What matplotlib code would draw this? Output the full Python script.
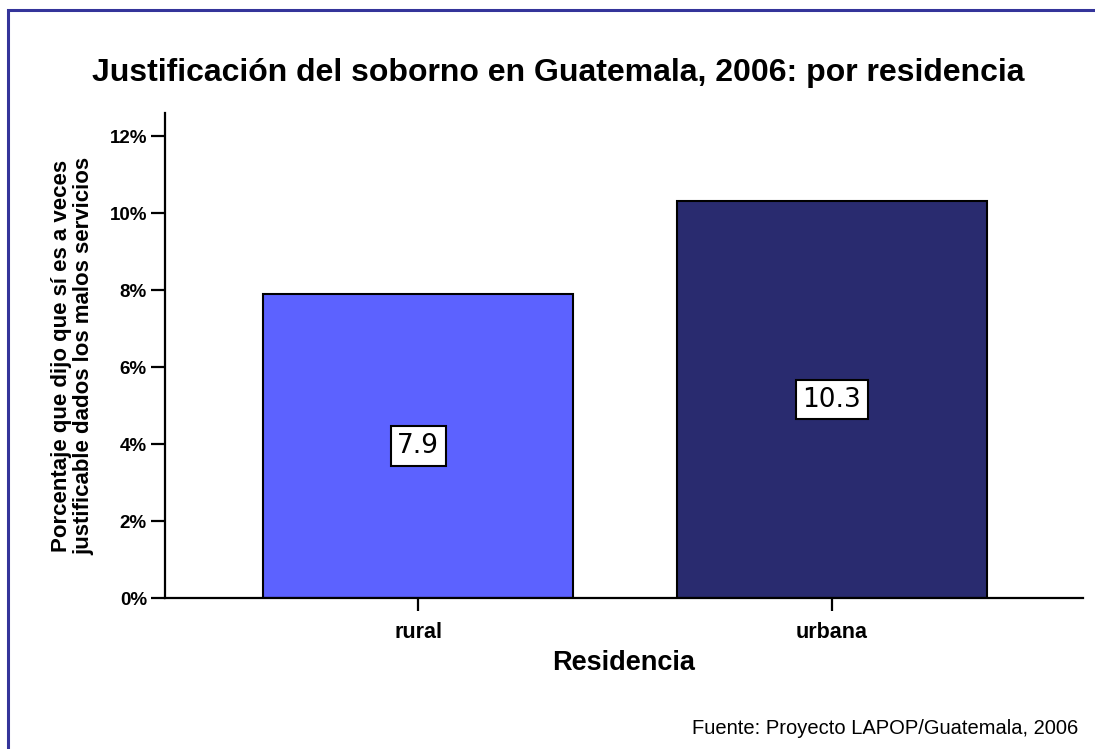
import matplotlib
matplotlib.use("Agg")
import matplotlib.pyplot as plt
from matplotlib import font_manager as fm
from matplotlib.patches import Rectangle
from matplotlib.ticker import FuncFormatter

# porcentaje que justifica el soborno, por residencia
categorias = ["rural", "urbana"]
valores = [7.9, 10.3]
colores = ["#5c62ff", "#292b6f"]
yticks = [0, 2, 4, 6, 8, 10, 12]

# usar Liberation Sans de ancho normal (sin la variante Narrow)
fm.fontManager.ttflist = [f for f in fm.fontManager.ttflist if "Narrow" not in f.fname]
plt.rcParams["font.family"] = ["Liberation Sans", "DejaVu Sans"]

fig = plt.figure(figsize=(10.95, 7.49), dpi=100)
ax = fig.add_axes([0.1507, 0.2016, 0.8383, 0.6476])

x = range(len(categorias))
bars = ax.bar(x, valores, width=0.75, color=colores, edgecolor="black", linewidth=1.5, zorder=2)

for xi, v in zip(x, valores):
    ax.text(xi, v / 2, f"{v:.1f}", ha="center", va="center", fontsize=19,
            family="DejaVu Sans",
            bbox=dict(boxstyle="square,pad=0.25", fc="white", ec="black", lw=1.5), zorder=3)

ax.set_xlim(-0.613, 1.608)
ax.set_ylim(0, 12.6)
ax.set_yticks(yticks)
ax.yaxis.set_major_formatter(FuncFormatter(lambda v, p: f"{v:.0f}%"))
ax.set_xticks(list(x))
ax.set_xticklabels(categorias)

for s in ["top", "right"]:
    ax.spines[s].set_visible(False)
for s in ["left", "bottom"]:
    ax.spines[s].set_linewidth(1.6)

ax.tick_params(axis="y", length=10, width=1.6, labelsize=13.5, pad=3)
ax.tick_params(axis="x", length=9, width=1.6, labelsize=15.5, pad=8)
for lab in ax.get_yticklabels() + ax.get_xticklabels():
    lab.set_fontweight("bold")

ax.set_xlabel("Residencia", fontsize=19.5, fontweight="bold", labelpad=5)
ax.set_ylabel("Porcentaje que dijo que sí es a veces\njustificable dados los malos servicios",
              fontsize=16, fontweight="bold", linespacing=1.05, labelpad=11)

fig.text(0.51, 0.902, "Justificación del soborno en Guatemala, 2006: por residencia",
         ha="center", va="center", fontsize=23, fontweight="bold")
fig.text(0.985, 0.028, "Fuente: Proyecto LAPOP/Guatemala, 2006", ha="right", va="center", fontsize=14.5)

# marco azul del gráfico
fig.patches.append(Rectangle((8 / 1095, -0.1), 1.2, (749 - 10) / 749 + 0.1, transform=fig.transFigure,
                             fill=False, ec="#34349a", lw=2.2, zorder=0))

fig.savefig("out.png", dpi=100)
